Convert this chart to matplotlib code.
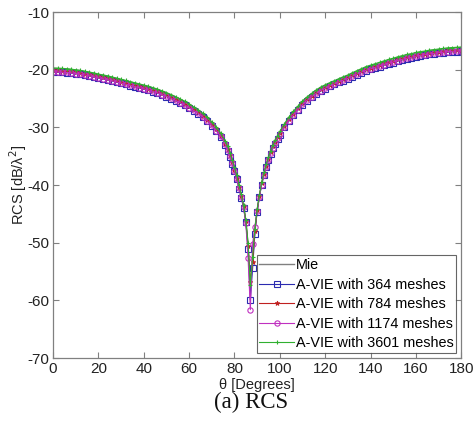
import matplotlib
matplotlib.use('Agg')
import matplotlib.pyplot as plt

# scattering angle grid (2 deg steps, 1 deg steps around the null)
theta = list(range(0, 77, 2)) + list(range(77, 100)) + list(range(100, 181, 2))

mie = [-19.75, -19.78, -19.82, -19.88, -19.95, -20.05, -20.15, -20.3, -20.45, -20.6,
       -20.8, -20.95, -21.1, -21.3, -21.5, -21.7, -21.9, -22.1, -22.3, -22.5,
       -22.7, -22.9, -23.15, -23.4, -23.7, -24.0, -24.35, -24.7, -25.1, -25.5,
       -26.0, -26.5, -27.0, -27.6, -28.3, -29.1, -30.0, -31.1, -32.5,
       -33.4, -34.5, -35.7, -37.0, -38.4, -40.0, -41.7, -43.6, -46.1, -50.3,
       -58.0, -52.8, -47.8, -44.3, -41.8, -39.6, -37.9, -36.5, -35.2, -34.1,
       -33.1, -32.2, -31.5,
       -30.8, -29.5, -28.3, -27.3, -26.4, -25.5, -24.8, -24.2, -23.6, -23.1,
       -22.7, -22.35, -22.0, -21.65, -21.3, -21.0, -20.6, -20.25, -19.9, -19.55,
       -19.3, -19.05, -18.8, -18.55, -18.3, -18.1, -17.85, -17.65, -17.45, -17.3,
       -17.1, -16.95, -16.85, -16.7, -16.6, -16.5, -16.4, -16.3, -16.25, -16.2, -16.15]

vie_364 = [-20.4, -20.42, -20.46, -20.52, -20.6, -20.7, -20.8, -20.95, -21.1, -21.25,
           -21.45, -21.6, -21.75, -21.95, -22.15, -22.35, -22.55, -22.75, -22.95, -23.15,
           -23.35, -23.55, -23.8, -24.05, -24.35, -24.65, -25.0, -25.35, -25.75, -26.15,
           -26.6, -27.1, -27.6, -28.2, -28.9, -29.7, -30.6, -31.6, -33.0,
           -34.0, -35.1, -36.3, -37.6, -39.0, -40.6, -42.2, -43.9, -46.4, -51.0,
           -59.9, -54.4, -48.4, -44.6, -42.0, -39.9, -38.3, -36.9, -35.7, -34.6,
           -33.6, -32.8, -32.0,
           -31.3, -30.0, -28.9, -27.9, -27.0, -26.1, -25.4, -24.8, -24.2, -23.7,
           -23.3, -22.9, -22.55, -22.2, -21.9, -21.6, -21.2, -20.85, -20.5, -20.2,
           -19.95, -19.7, -19.45, -19.2, -18.95, -18.75, -18.5, -18.3, -18.1, -17.95,
           -17.75, -17.6, -17.5, -17.35, -17.25, -17.15, -17.05, -16.95, -16.9, -16.85, -16.8]

vie_784 = [-20.1, -20.12, -20.16, -20.22, -20.3, -20.4, -20.5, -20.65, -20.8, -20.95,
           -21.15, -21.3, -21.45, -21.65, -21.85, -22.05, -22.25, -22.45, -22.65, -22.85,
           -23.05, -23.25, -23.5, -23.75, -24.05, -24.35, -24.7, -25.05, -25.45, -25.85,
           -26.35, -26.85, -27.35, -27.95, -28.65, -29.45, -30.35, -31.4, -32.8,
           -33.7, -34.8, -36.0, -37.3, -38.7, -40.3, -41.9, -43.7, -46.2, -50.6,
           -56.8, -53.4, -48.0, -44.4, -41.9, -39.7, -38.1, -36.7, -35.4, -34.3,
           -33.3, -32.5, -31.7,
           -31.0, -29.7, -28.6, -27.6, -26.7, -25.8, -25.1, -24.5, -23.9, -23.4,
           -23.0, -22.6, -22.25, -21.9, -21.6, -21.3, -20.9, -20.55, -20.2, -19.9,
           -19.65, -19.4, -19.15, -18.9, -18.65, -18.45, -18.2, -18.0, -17.8, -17.65,
           -17.45, -17.3, -17.2, -17.05, -16.95, -16.85, -16.75, -16.65, -16.6, -16.55, -16.5]

vie_1174 = [-20.35, -20.37, -20.41, -20.47, -20.55, -20.65, -20.75, -20.9, -21.05, -21.2,
            -21.4, -21.55, -21.7, -21.9, -22.1, -22.3, -22.5, -22.7, -22.9, -23.1,
            -23.3, -23.5, -23.75, -24.0, -24.3, -24.6, -24.95, -25.3, -25.7, -26.1,
            -26.55, -27.05, -27.55, -28.15, -28.85, -29.65, -30.55, -31.55, -32.9,
            -33.9, -35.0, -36.2, -37.5, -38.9, -40.5, -42.0, -43.8, -46.6, -52.6,
            -61.6, -50.2, -47.2, -44.5, -42.0, -39.9, -38.2, -36.8, -35.6, -34.5,
            -33.5, -32.7, -31.9,
            -31.2, -29.9, -28.8, -27.8, -26.9, -26.0, -25.3, -24.7, -24.1, -23.6,
            -23.2, -22.8, -22.45, -22.1, -21.8, -21.5, -21.1, -20.75, -20.4, -20.1,
            -19.85, -19.6, -19.35, -19.1, -18.85, -18.65, -18.4, -18.2, -18.0, -17.85,
            -17.65, -17.5, -17.4, -17.25, -17.15, -17.05, -16.95, -16.85, -16.8, -16.75, -16.7]

vie_3601 = [-19.7, -19.72, -19.76, -19.82, -19.9, -20.0, -20.1, -20.25, -20.4, -20.55,
            -20.75, -20.9, -21.05, -21.25, -21.45, -21.65, -21.85, -22.05, -22.25, -22.45,
            -22.65, -22.85, -23.1, -23.35, -23.65, -23.95, -24.3, -24.65, -25.05, -25.45,
            -25.95, -26.45, -26.95, -27.55, -28.25, -29.05, -29.95, -31.05, -32.4,
            -33.3, -34.4, -35.6, -36.9, -38.3, -39.9, -41.6, -43.5, -46.0, -50.1,
            -57.4, -52.4, -47.6, -44.2, -41.7, -39.5, -37.8, -36.4, -35.1, -34.0,
            -33.0, -32.1, -31.4,
            -30.7, -29.4, -28.2, -27.2, -26.3, -25.4, -24.7, -24.1, -23.5, -23.0,
            -22.6, -22.25, -21.9, -21.55, -21.2, -20.9, -20.5, -20.15, -19.8, -19.45,
            -19.2, -18.95, -18.7, -18.45, -18.2, -18.0, -17.75, -17.55, -17.35, -17.2,
            -17.0, -16.85, -16.75, -16.6, -16.5, -16.4, -16.3, -16.2, -16.15, -16.1, -16.05]

plt.rcParams['font.family'] = ['Liberation Sans', 'DejaVu Sans']
plt.rcParams['axes.unicode_minus'] = False

fig = plt.figure(figsize=(4.74, 4.32), dpi=100)
ax = fig.add_axes([0.112, 0.171, 0.861, 0.801])

ax.plot(theta, mie, color='#808080', lw=1.0, label='Mie')
ax.plot(theta, vie_364, color='#2b2bb0', lw=0.8, marker='s', ms=3.8, mfc='none',
        mew=0.8, label='A-VIE with 364 meshes')
ax.plot(theta, vie_784, color='#c02020', lw=0.8, marker='*', ms=3.5,
        mew=0.6, label='A-VIE with 784 meshes')
ax.plot(theta, vie_1174, color='#c030c0', lw=0.8, marker='o', ms=3.8, mfc='none',
        mew=0.8, label='A-VIE with 1174 meshes')
ax.plot(theta, vie_3601, color='#30b030', lw=0.8, marker='+', ms=3.5,
        mew=0.8, label='A-VIE with 3601 meshes')

ax.set_xlim(0, 180)
ax.set_ylim(-70, -10)
ax.set_xticks(range(0, 181, 20))
ax.set_yticks(range(-70, -9, 10))
ax.tick_params(direction='in', top=True, right=True, length=4, width=0.8,
               color='#808080', labelsize=11, labelcolor='#222222', pad=3)
for s in ax.spines.values():
    s.set_color('#808080')
    s.set_linewidth(0.9)

ax.set_xlabel('θ [Degrees]', fontsize=10.5, color='#222222', labelpad=1)
ax.set_ylabel('RCS [dB/λ$^2$]', fontsize=10.5, color='#222222')
ax.yaxis.set_label_coords(-0.06, 0.5)

leg = ax.legend(loc='lower right', fontsize=10.4, frameon=True, fancybox=False,
                edgecolor='#404040', borderpad=0.2, labelspacing=0.38,
                handlelength=2.4, handletextpad=0.1, borderaxespad=0.35)
leg.get_frame().set_linewidth(0.8)

fig.text(0.53, 0.069, '(a) RCS', ha='center', va='center',
         family='Liberation Serif', fontsize=16.5, color='#111111')

fig.savefig('out.png', dpi=100)
